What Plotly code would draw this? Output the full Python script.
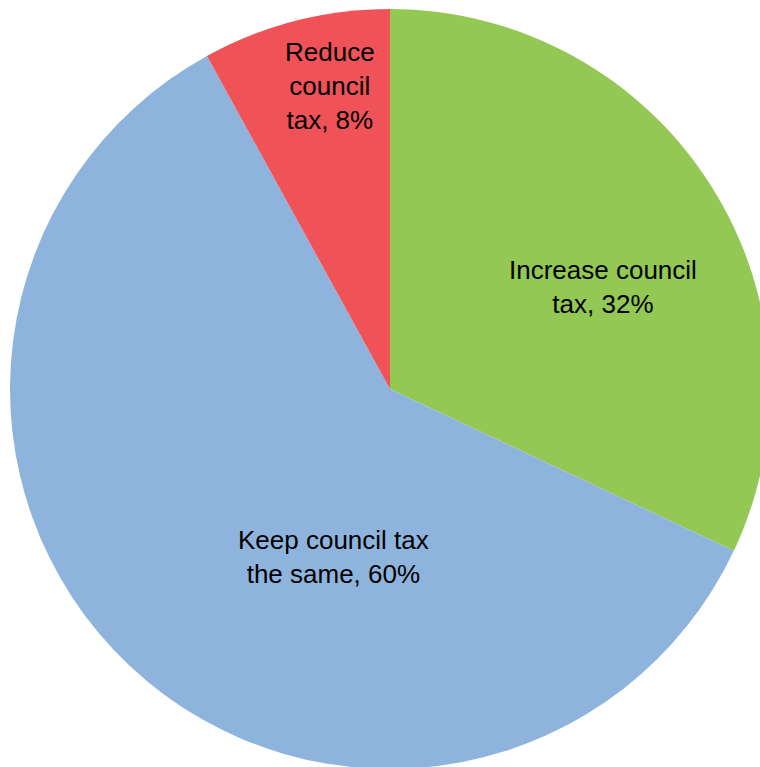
import plotly.graph_objects as go

categories = ["Increase council tax", "Keep council tax the same", "Reduce council tax"]
values = [32, 60, 8]
colors = ["#92C853", "#8EB4DE", "#EF5257"]
label_texts = ["Increase council<br>tax, 32%", "Keep council tax<br>the same, 60%", "Reduce<br>council<br>tax, 8%"]
# label centres in paper coordinates
label_x = [0.7803, 0.4263, 0.421]
label_y = [0.634, 0.279, 0.899]

fig = go.Figure(
    go.Pie(
        labels=categories,
        values=values,
        marker=dict(colors=colors, line=dict(width=0)),
        sort=False,
        direction="clockwise",
        rotation=0,
        textinfo="none",
        showlegend=False,
        hoverinfo="label+percent",
    )
)

for t, x, y in zip(label_texts, label_x, label_y):
    fig.add_annotation(
        text=t, x=x, y=y, xref="paper", yref="paper",
        xanchor="center", yanchor="middle", showarrow=False,
        font=dict(family="Liberation Sans, Arial, sans-serif", size=26, color="#000000"),
    )

fig.update_layout(
    width=770, height=770,
    margin=dict(l=10, r=0, t=9, b=1),
    paper_bgcolor="white",
    plot_bgcolor="white",
)

fig.write_html(
    "out.html",
    config={"displayModeBar": False},
    post_script="document.body.style.margin='0';document.body.style.overflow='hidden';",
)
